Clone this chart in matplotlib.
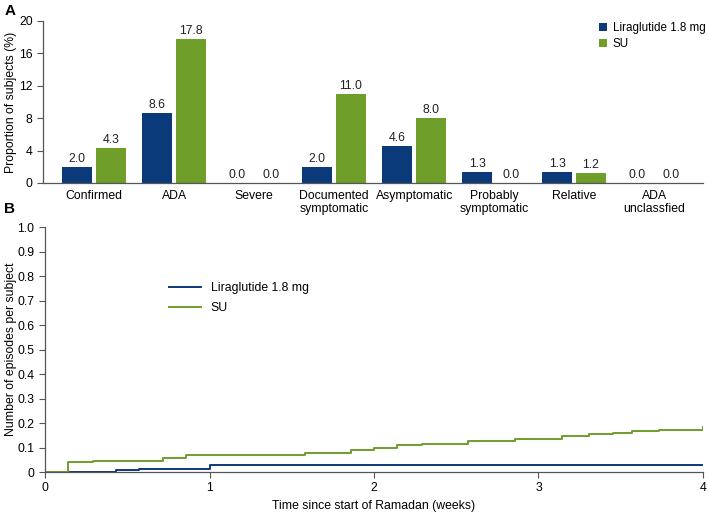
import matplotlib
matplotlib.use("Agg")
import matplotlib.pyplot as plt
import numpy as np

plt.rcParams['font.family'] = ['Liberation Sans', 'DejaVu Sans']

categories = ["Confirmed", "ADA", "Severe", "Documented\nsymptomatic", "Asymptomatic",
              "Probably\nsymptomatic", "Relative", "ADA\nunclassfied"]
lira_pct = [2.0, 8.6, 0.0, 2.0, 4.6, 1.3, 1.3, 0.0]
su_pct = [4.3, 17.8, 0.0, 11.0, 8.0, 0.0, 1.2, 0.0]
series_names = ["Liraglutide 1.8 mg", "SU"]

# Cumulative episodes per subject (step functions)
lira_t = [0.0, 0.43, 0.57, 1.0, 4.0]
lira_y = [0.0, 0.007, 0.014, 0.028, 0.028]
su_t = [0.0, 0.14, 0.29, 0.72, 0.86, 1.58, 1.86, 2.0, 2.14, 2.29, 2.57, 2.86,
        3.14, 3.31, 3.45, 3.57, 3.73, 4.0]
su_y = [0.0, 0.040, 0.046, 0.056, 0.069, 0.078, 0.089, 0.097, 0.110, 0.116, 0.126,
        0.133, 0.146, 0.154, 0.160, 0.166, 0.173, 0.184]

BLUE = "#0b3a7a"
GREEN = "#6f9f2a"
SPINE = "#555555"
FS = 8.8

fig = plt.figure(figsize=(7.09, 5.12), dpi=100)

# ---------- Panel A ----------
axA = fig.add_axes([0.0607, 0.6426, 0.9308, 0.3164])
x = np.arange(len(categories))
w = 0.375
off = 0.21
b1 = axA.bar(x - off, lira_pct, w, color=BLUE, label=series_names[0])
b2 = axA.bar(x + off, su_pct, w, color=GREEN, label=series_names[1])
for bars, vals in ((b1, lira_pct), (b2, su_pct)):
    for r, v in zip(bars, vals):
        axA.text(r.get_x() + r.get_width() / 2, v + 0.25, f"{v:.1f}",
                 ha="center", va="bottom", fontsize=FS, color="#222222")
axA.set_xlim(-0.64, 7.61)
axA.set_ylim(0, 20)
axA.set_yticks([0, 4, 8, 12, 16, 20])
axA.set_xticks(x)
axA.set_xticklabels(categories, fontsize=FS, linespacing=1.1)
axA.tick_params(axis="x", length=0, pad=5)
axA.tick_params(axis="y", labelsize=FS, length=4, color=SPINE, direction="out")
for s in ("top", "right"):
    axA.spines[s].set_visible(False)
for s in ("left", "bottom"):
    axA.spines[s].set_color(SPINE)
    axA.spines[s].set_linewidth(0.9)
axA.set_ylabel("Proportion of subjects (%)", fontsize=FS)
axA.yaxis.set_label_coords(-0.04, 0.5)
axA.legend(loc="upper left", bbox_to_anchor=(0.826, 1.06), frameon=False,
           fontsize=8.4, handlelength=0.7, handleheight=0.7, handletextpad=0.5,
           labelspacing=0.4)

# ---------- Panel B ----------
axB = fig.add_axes([0.0635, 0.078, 0.928, 0.4786])
axB.step(lira_t, lira_y, where="post", color=BLUE, lw=1.4, label=series_names[0])
axB.step(su_t, su_y, where="post", color=GREEN, lw=1.4, label=series_names[1])
axB.set_xlim(0, 4)
axB.set_ylim(0, 1.0)
axB.set_xticks([0, 1, 2, 3, 4])
axB.set_xticklabels(["0", "1", "2", "3", "4"])
axB.set_yticks(np.round(np.arange(0, 1.01, 0.1), 1))
axB.set_yticklabels(["0"] + [f"{v:.1f}" for v in np.arange(0.1, 1.01, 0.1)])
axB.tick_params(labelsize=FS, length=4, color=SPINE, direction="out")
for s in ("top", "right"):
    axB.spines[s].set_visible(False)
for s in ("left", "bottom"):
    axB.spines[s].set_color(SPINE)
    axB.spines[s].set_linewidth(0.9)
axB.set_ylabel("Number of episodes per subject", fontsize=FS)
axB.yaxis.set_label_coords(-0.043, 0.5)
axB.set_xlabel("Time since start of Ramadan (weeks)", fontsize=FS, labelpad=4)
axB.legend(loc="upper left", bbox_to_anchor=(0.172, 0.82), frameon=False, fontsize=FS,
           handlelength=2.6, handletextpad=0.8, labelspacing=0.65)

fig.text(0.006, 0.993, "A", fontsize=11, fontweight="bold", va="top")
fig.text(0.006, 0.605, "B", fontsize=11, fontweight="bold", va="top")

fig.savefig("out.png", dpi=100)
